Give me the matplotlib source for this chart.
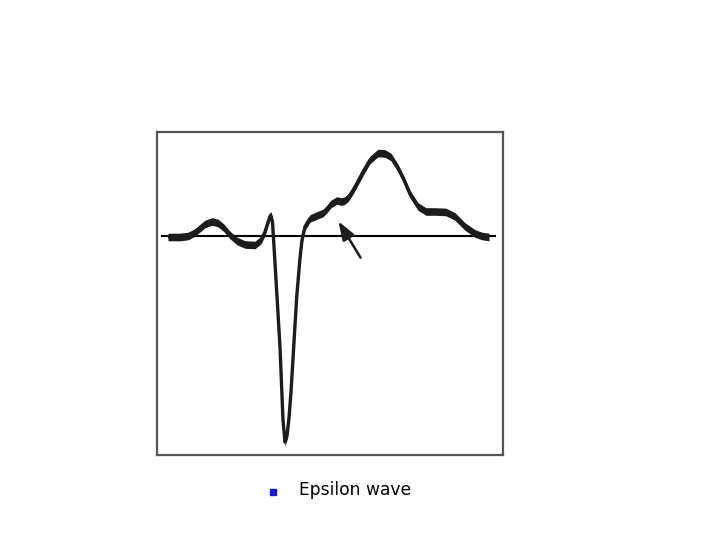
import numpy as np
import matplotlib.pyplot as plt

# ECG trace (pixel units inside the frame, y grows downward)
trace_x = [168, 180, 188, 194, 199, 205, 212, 218, 224, 230, 237, 245, 255, 261,
           265, 268, 270.7, 272.5, 275, 280, 283, 285, 287, 289, 291, 296.7, 300, 302, 305,
           310, 318, 323, 327, 331, 336.7, 341, 344, 348, 352, 356, 363, 370, 378,
           385, 391, 398, 404, 410, 418, 426, 436, 446, 455, 465, 475, 482, 489]
trace_y = [237, 237, 236, 233, 229, 224, 221.5, 223, 228, 235, 241, 244.5, 245, 240,
           232, 222, 215, 222, 263, 347, 420, 442, 436, 418, 392, 297, 258, 240, 226.5,
           218.5, 215, 213, 209, 204, 200.5, 201.5, 201, 198, 192, 185, 172, 160, 153,
           153.5, 157, 168, 180, 194, 206.5, 211.5, 211.5, 212, 216.5, 226.5, 233.5, 236, 237]

baseline_x = [162, 495]
baseline_y = 236

arrow_tip = (337, 219)
arrow_tail = (362, 260)

legend_label = "Epsilon wave"

fig = plt.figure(figsize=(7.2, 5.4), dpi=100)

ax = fig.add_axes([157 / 720, (540 - 455) / 540, 346 / 720, 323 / 540])
ax.set_xlim(157, 503)
ax.set_ylim(455, 132)
ax.set_xticks([])
ax.set_yticks([])
for s in ax.spines.values():
    s.set_color('#555555')
    s.set_linewidth(1.6)

ax.plot(baseline_x, [baseline_y, baseline_y], color='black', lw=1.5, zorder=2)

tx = np.array(trace_x)
ty = np.array(trace_y)
ax.fill_between(tx, ty - 3.8, ty + 3.8, color='#1c1c1c', lw=0, zorder=3)
ax.plot(tx, ty, color='#1c1c1c', lw=2.4, solid_joinstyle='round',
        solid_capstyle='butt', zorder=3)

ax.annotate('', xy=arrow_tip, xytext=arrow_tail,
            arrowprops=dict(arrowstyle='-|>,head_length=0.7,head_width=0.25',
                            color='#1c1c1c', lw=1.8, mutation_scale=16), zorder=4)

# bullet + caption below the frame
leg = fig.add_axes([0, 0, 1, 1], facecolor='none')
leg.set_xlim(0, 720)
leg.set_ylim(540, 0)
leg.axis('off')
leg.plot([273], [492], marker='s', color='#1a1acc', markersize=4)
leg.text(299, 490, legend_label, fontsize=12.3, va='center', ha='left',
         color='black', family='DejaVu Sans')

fig.savefig('out.png', dpi=100)
